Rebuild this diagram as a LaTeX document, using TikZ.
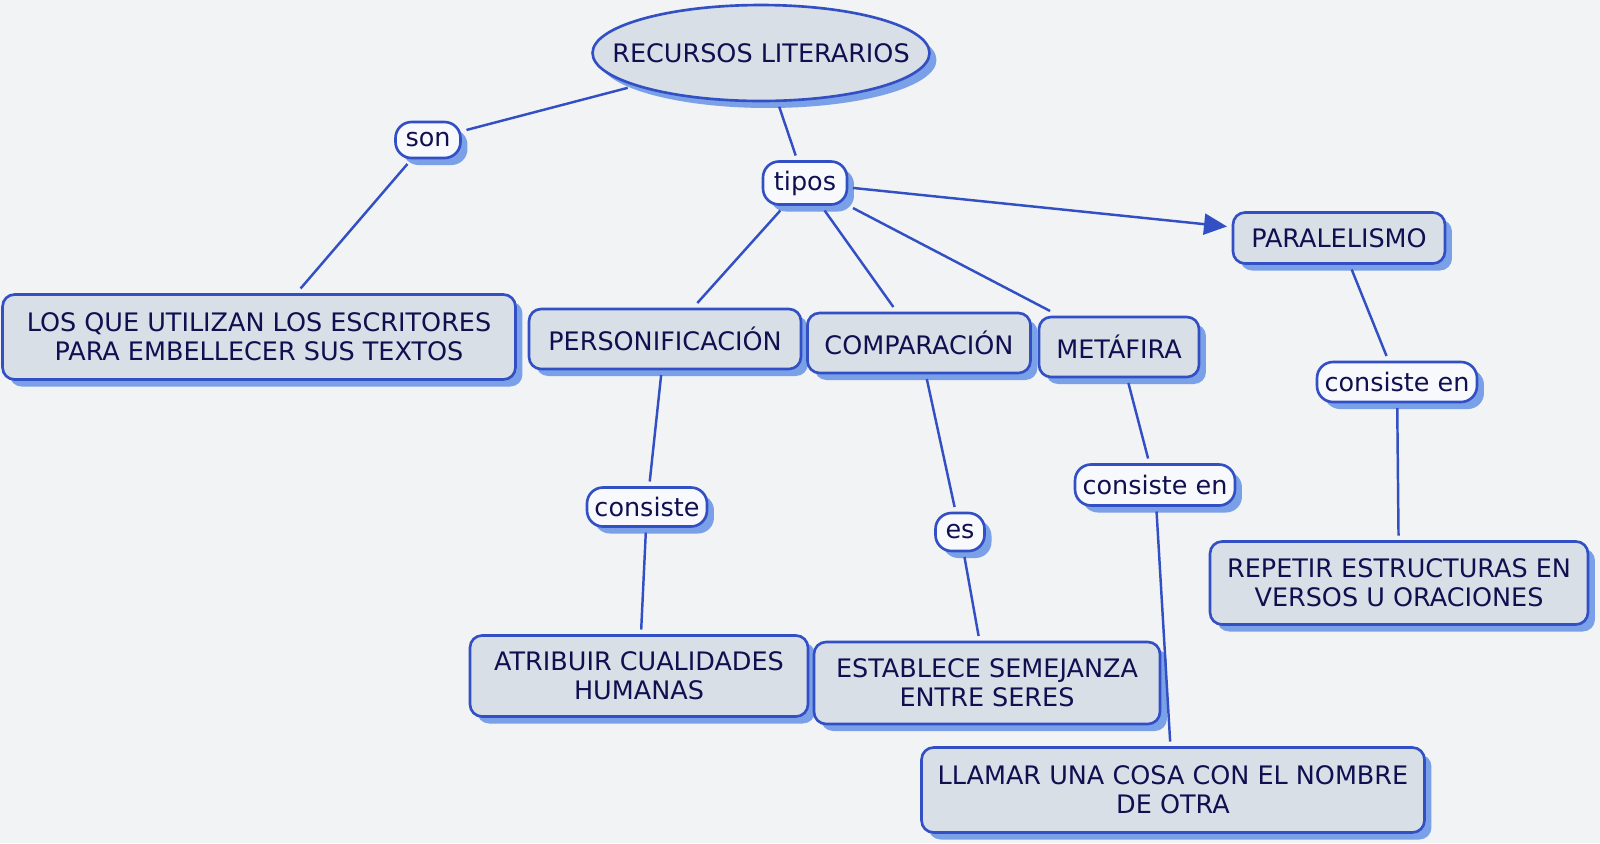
\documentclass[tikz,border=0pt]{standalone}
\usepackage{fontspec}
\setmainfont{DejaVu Sans}
\usepackage{tikz}
\usetikzlibrary{arrows.meta,shadows,shapes.geometric}
\definecolor{MapBlue}{RGB}{50,80,196}
\definecolor{ShadowBlue}{RGB}{122,160,232}
\definecolor{BoxFill}{RGB}{216,223,230}
\definecolor{LinkFill}{RGB}{248,249,252}
\definecolor{Ink}{RGB}{16,16,80}
\definecolor{PaperGrey}{RGB}{242,243,245}
\tikzset{
  concept/.style={draw=MapBlue,line width=1.5pt,fill=BoxFill,rounded corners=0.24cm,
    text=Ink,align=center,inner sep=2pt,outer sep=0.12cm,
    font=\fontsize{14.5}{16.5}\selectfont,
    drop shadow={shadow xshift=0.14cm,shadow yshift=-0.14cm,fill=ShadowBlue,opacity=1}},
  linkword/.style={concept,fill=LinkFill,rounded corners=0.32cm},
  rel/.style={draw=MapBlue,line width=1.4pt}
}

\begin{document}
\begin{tikzpicture}[x=0.02cm,y=-0.02cm,>={Triangle[length=0.46cm,width=0.42cm]}]
\fill[PaperGrey] (0,0) rectangle (1600,843);

\node[concept,ellipse,rounded corners=0pt,inner sep=0pt,minimum width=6.74cm,minimum height=1.92cm] (top) at (761,53) {\makebox[0pt]{RECURSOS LITERARIOS}};
\node[linkword,minimum width=1.30cm,minimum height=0.72cm] (son) at (428,140) {son};
\node[linkword,minimum width=1.68cm,minimum height=0.86cm] (tipos) at (805,183) {tipos};
\node[concept,minimum width=10.26cm,minimum height=1.7cm] (defin) at (259,337) {LOS QUE UTILIZAN LOS ESCRITORES\\PARA EMBELLECER SUS TEXTOS};

\node[concept,minimum width=5.44cm,minimum height=1.2cm] (personif) at (665,339) {PERSONIFICACIÓN};
\node[concept,minimum width=4.46cm,minimum height=1.2cm] (compar) at (919,343) {COMPARACIÓN};
\node[concept,minimum width=3.2cm,minimum height=1.2cm] (metaf) at (1119,347) {METÁFIRA};
\node[concept,minimum width=4.24cm,minimum height=1.02cm] (paral) at (1339,238) {PARALELISMO};

\node[linkword,minimum width=2.4cm,minimum height=0.78cm] (consA) at (647,507) {consiste};
\node[linkword,minimum width=0.98cm,minimum height=0.76cm] (es) at (960,532) {es};
\node[linkword,minimum width=3.2cm,minimum height=0.82cm] (consM) at (1155,485) {consiste en};
\node[linkword,minimum width=3.2cm,minimum height=0.8cm] (consP) at (1397,382) {consiste en};

\node[concept,minimum width=6.76cm,minimum height=1.62cm] (atrib) at (639,676) {ATRIBUIR CUALIDADES\\HUMANAS};
\node[concept,minimum width=6.92cm,minimum height=1.64cm] (establ) at (987,683) {ESTABLECE SEMEJANZA\\ENTRE SERES};
\node[concept,minimum width=10.06cm,minimum height=1.7cm] (llamar) at (1173,790) {LLAMAR UNA COSA CON EL NOMBRE\\DE OTRA};
\node[concept,minimum width=7.56cm,minimum height=1.66cm] (repetir) at (1399,583) {REPETIR ESTRUCTURAS EN\\VERSOS U ORACIONES};

\draw[rel] (top) -- (son);
\draw[rel] (son) -- (defin);
\draw[rel] (top) -- (tipos);
\draw[rel,->,fill=MapBlue] (tipos) -- (paral);
\draw[rel] (tipos) -- (personif);
\draw[rel] (tipos) -- (compar);
\draw[rel] (tipos) -- (metaf);
\draw[rel] (personif) -- (consA);
\draw[rel] (consA) -- (atrib);
\draw[rel] (compar) -- (es);
\draw[rel] (es) -- (establ);
\draw[rel] (metaf) -- (consM);
\draw[rel] (consM) -- (llamar);
\draw[rel] (paral) -- (consP);
\draw[rel] (consP) -- (repetir);
\end{tikzpicture}
\end{document}
